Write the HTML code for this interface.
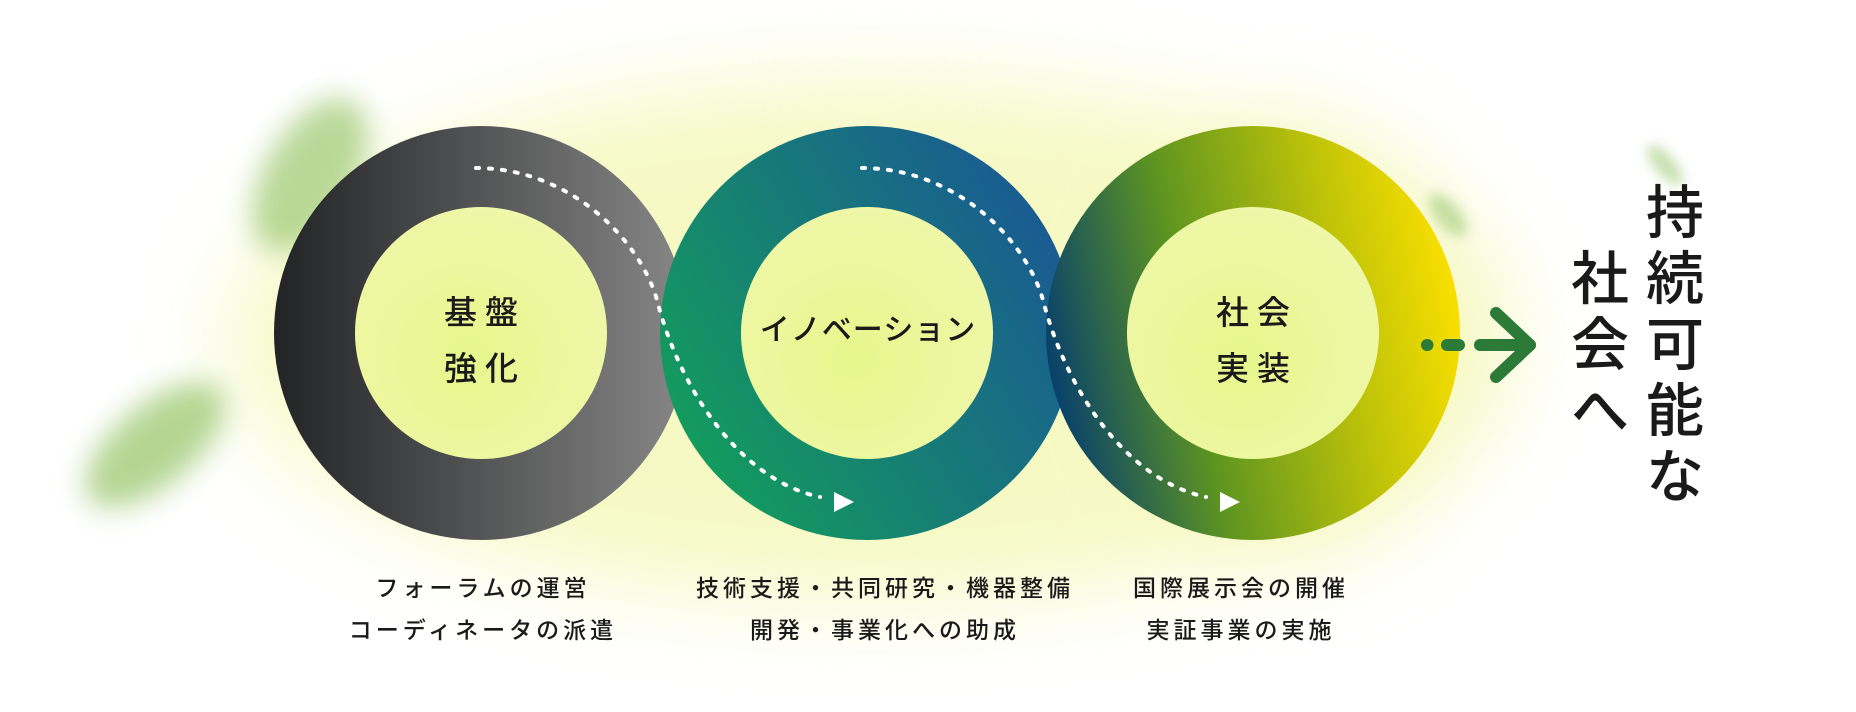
<!DOCTYPE html>
<html><head><meta charset="utf-8"><style>
html,body{margin:0;padding:0;background:#fff;}
body{width:1856px;height:712px;overflow:hidden;position:relative;}
svg{position:absolute;left:0;top:0;}
text{font-family:"Noto Sans CJK JP","Liberation Sans",sans-serif;font-weight:500;fill:#1a1a1a;}
</style></head><body>
<svg width="1856" height="712" viewBox="0 0 1856 712" xmlns="http://www.w3.org/2000/svg">
<defs>
  <filter id="b40" x="-100%" y="-100%" width="300%" height="300%"><feGaussianBlur stdDeviation="45"/></filter>
  <filter id="b8" x="-300%" y="-300%" width="700%" height="700%"><feGaussianBlur stdDeviation="14"/></filter>
  <filter id="b5" x="-300%" y="-300%" width="700%" height="700%"><feGaussianBlur stdDeviation="6"/></filter>
  <linearGradient id="g1" x1="0" y1="0" x2="1" y2="0"><stop offset="0" stop-color="#222325"/><stop offset="1" stop-color="#878787"/></linearGradient>
  <linearGradient id="g2" x1="0" y1="0.8" x2="1" y2="0.2"><stop offset="0" stop-color="#13a05a"/><stop offset="0.5" stop-color="#177a78"/><stop offset="1" stop-color="#1a5796"/></linearGradient>
  <linearGradient id="g3" x1="0" y1="0.6" x2="1" y2="0.4"><stop offset="0" stop-color="#053e6e"/><stop offset="0.35" stop-color="#5e9520"/><stop offset="0.7" stop-color="#b9c00a"/><stop offset="1" stop-color="#fbe000"/></linearGradient>
  <radialGradient id="inn" cx="0.45" cy="0.6" r="0.6"><stop offset="0" stop-color="#e6f78c"/><stop offset="1" stop-color="#eff7a8"/></radialGradient>
</defs>
<ellipse cx="870" cy="340" rx="640" ry="260" fill="#f3f7b0" opacity="0.75" filter="url(#b40)"/>
<ellipse cx="1290" cy="340" rx="180" ry="220" fill="#f7f7c0" opacity="0.7" filter="url(#b40)"/>
<ellipse cx="310" cy="175" rx="45" ry="85" transform="rotate(30 310 175)" fill="#9cc870" opacity="0.7" filter="url(#b8)"/>
<ellipse cx="155" cy="445" rx="40" ry="85" transform="rotate(50 155 445)" fill="#9cc870" opacity="0.75" filter="url(#b8)"/>
<ellipse cx="1448" cy="215" rx="12" ry="26" transform="rotate(-40 1448 215)" fill="#9cc870" opacity="0.55" filter="url(#b5)"/>
<ellipse cx="1665" cy="165" rx="10" ry="25" transform="rotate(-40 1665 165)" fill="#9cc870" opacity="0.55" filter="url(#b5)"/>
<circle cx="481" cy="333" r="207" fill="url(#g1)"/>
<circle cx="481" cy="333" r="126" fill="url(#inn)"/>
<circle cx="867" cy="333" r="207" fill="url(#g2)"/>
<circle cx="867" cy="333" r="126" fill="url(#inn)"/>
<circle cx="1253" cy="333" r="207" fill="url(#g3)"/>
<circle cx="1253" cy="333" r="126" fill="url(#inn)"/>
<g fill="none" stroke="#fff" stroke-width="4" stroke-linecap="round" stroke-dasharray="3 10">
<path d="M476,168 C570,168 640,240 657,300 C680,390 740,480 820,497"/>
<path d="M862,168 C956,168 1026,240 1043,300 C1066,390 1126,480 1206,497"/>
</g>
<polygon points="834,492 854,502 834,512" fill="#fff"/>
<polygon points="1220,492 1240,502 1220,512" fill="#fff"/>
<g stroke="#2c7a38" stroke-width="12" stroke-linecap="round" fill="none">
<line x1="1427" y1="345" x2="1427.5" y2="345"/>
<line x1="1447" y1="345" x2="1459" y2="345"/>
<line x1="1480" y1="345" x2="1530" y2="345"/>
<polyline points="1496,313 1530,345 1496,377" stroke-linejoin="round"/>
</g>
<g font-size="33" text-anchor="middle" letter-spacing="8">
<text x="485" y="324">基盤</text>
<text x="485" y="380">強化</text>
<text x="1257" y="324">社会</text>
<text x="1257" y="380">実装</text>
</g>
<text x="868" y="340" font-size="30" text-anchor="middle" letter-spacing="1">イノベーション</text>
<g font-size="23" text-anchor="middle" letter-spacing="4">
<text x="483" y="596">フォーラムの運営</text>
<text x="483" y="638">コーディネータの派遣</text>
<text x="885" y="596">技術支援・共同研究・機器整備</text>
<text x="885" y="638">開発・事業化への助成</text>
<text x="1241" y="596">国際展示会の開催</text>
<text x="1241" y="638">実証事業の実施</text>
</g>
<g font-size="58" text-anchor="middle">
<text x="1675" y="233">持</text>
<text x="1675" y="299">続</text>
<text x="1675" y="365">可</text>
<text x="1675" y="431">能</text>
<text x="1675" y="497">な</text>
<text x="1600" y="299">社</text>
<text x="1600" y="365">会</text>
<text x="1600" y="431">へ</text>
</g>
</svg>
</body></html>
